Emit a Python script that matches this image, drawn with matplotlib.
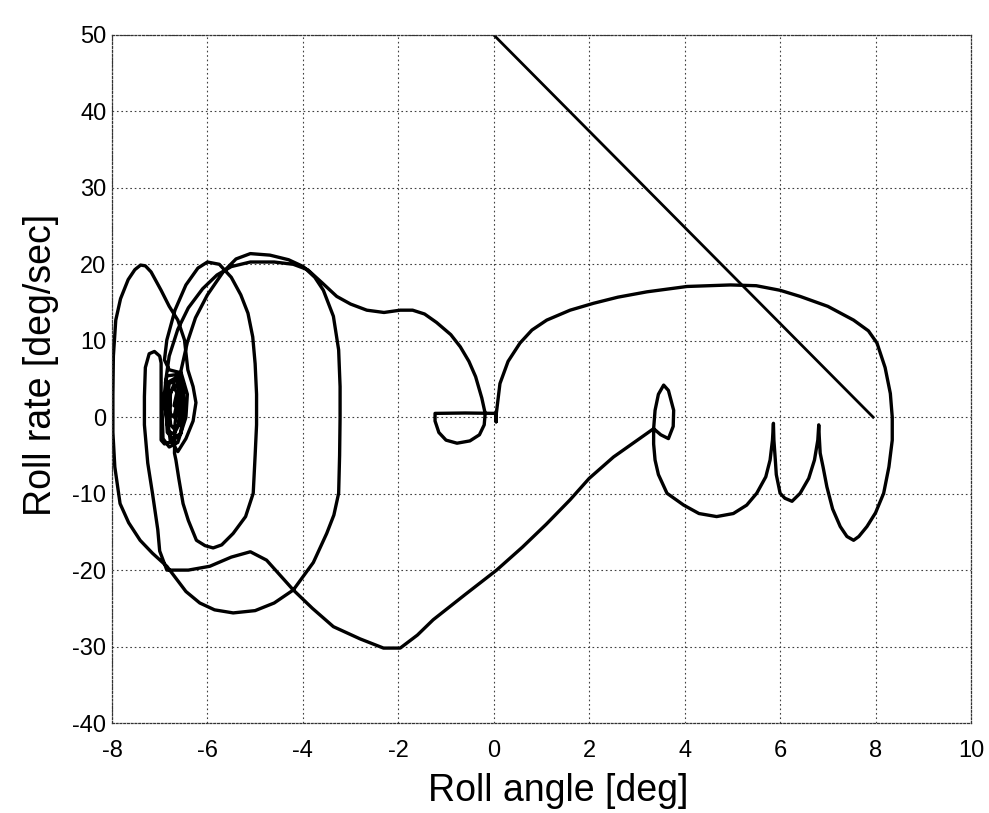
import matplotlib
matplotlib.use("Agg")
import matplotlib.pyplot as plt

# phase-plane trajectory (roll angle [deg], roll rate [deg/s])
roll_angle = [
    # inner spiral, left
    -6.70, -6.64, -6.70, -6.77, -6.80, -6.77, -6.70, -6.60, -6.55, -6.56, -6.66, -6.80,
    -6.87, -6.84, -6.72, -6.56, -6.49, -6.50, -6.62, -6.85, -6.95, -6.93, -6.80, -6.62,
    -6.45, -6.42, -6.55, -6.80,
    # medium loop
    -6.90, -6.85, -6.68, -6.45, -6.20, -6.00, -5.75, -5.50, -5.30, -5.15, -5.05, -5.00,
    -4.97, -4.97, -5.00, -5.04, -5.20, -5.46, -5.70, -5.88, -6.05, -6.23, -6.40, -6.51,
    -6.60, -6.66, -6.69,
    # rise to top arc, big loop
    -6.68, -6.62, -6.55, -6.42, -6.25, -6.00, -5.67, -5.40, -5.10, -4.69, -4.30, -3.99,
    -3.75, -3.57, -3.36, -3.25, -3.22, -3.22, -3.23, -3.25, -3.35, -3.50, -3.78, -4.20,
    -4.60, -5.00, -5.46, -5.85, -6.16, -6.45, -6.85, -7.15, -7.41, -7.65, -7.83, -7.94,
    -7.98, -7.98, -7.97, -7.92, -7.82, -7.66, -7.52, -7.40, -7.30, -7.18, -6.97, -6.80,
    -6.62, -6.48, -6.41, -6.30, -6.24, -6.30, -6.45, -6.62,
    # second rise, then out to the right
    -6.78, -6.86, -6.88, -6.80, -6.62, -6.40, -6.10, -5.80, -5.50, -5.10, -4.60, -4.20,
    -3.90, -3.60, -3.29, -3.00, -2.66, -2.30, -1.96, -1.70, -1.45, -1.20, -0.90, -0.70,
    -0.52, -0.38, -0.25, -0.18, -0.20, -0.30, -0.50, -0.77, -1.00, -1.15, -1.23, -1.23,
    -0.60, 0.05, 0.05, 0.05,
    # right half
    0.13, 0.30, 0.55, 0.80, 1.11, 1.60, 2.09, 2.60, 3.21, 4.05, 4.96, 5.50,
    6.00, 6.42, 7.00, 7.54, 7.85, 8.03, 8.20, 8.31, 8.35, 8.35, 8.28, 8.17, 8.00,
    7.82, 7.65, 7.54, 7.40, 7.26, 7.10, 6.98, 6.90, 6.84, 6.82, 6.81, 6.79,
    6.72, 6.60, 6.42, 6.25, 6.10, 6.00, 5.92, 5.90, 5.87, 5.86, 5.84, 5.79,
    5.70, 5.51, 5.30, 5.02, 4.67, 4.30, 3.98, 3.63, 3.45, 3.38, 3.35, 3.35,
    3.38, 3.45, 3.56, 3.66, 3.77, 3.76, 3.66, 3.50, 3.35,
    # diagonal down to the -30 dip and back to the left
    2.51, 2.00, 1.60, 1.10, 0.60, 0.06, -0.60, -1.27, -1.60, -1.96, -2.31, -2.80,
    -3.36, -3.80, -4.20, -4.50, -4.76, -5.10, -5.50, -5.95, -6.40, -6.85,
    # hook and final spiral
    -7.00, -7.04, -7.15, -7.25, -7.32, -7.32, -7.30, -7.22, -7.11, -7.00, -6.97, -6.97,
    -6.97, -6.97, -6.90, -6.75, -6.55, -6.50, -6.52, -6.65, -6.82, -6.88, -6.82, -6.70,
    -6.60, -6.58, -6.60, -6.70, -6.78, -6.78, -6.70, -6.65,
]
roll_rate = [
    1.5, 3.2, 3.9, 3.3, 1.0, -1.0, -1.5, -1.0, 1.0, 3.8, 4.8, 4.4,
    1.0, -2.0, -2.8, -2.2, 1.0, 4.3, 5.6, 5.4, 1.0, -2.8, -3.9, -3.3,
    0.0, 3.0, 5.8, 6.2,
    7.5, 10.1, 14.0, 17.3, 19.5, 20.3, 20.0, 18.3, 16.0, 13.6, 10.5, 7.0,
    3.0, -1.0, -5.0, -9.95, -13.0, -15.2, -16.7, -17.1, -16.8, -16.1, -13.5, -11.3,
    -8.0, -5.6, -4.7,
    -1.0, 2.5, 6.2, 9.8, 13.0, 16.0, 19.0, 20.7, 21.4, 21.2, 20.6, 19.7,
    18.3, 16.6, 13.2, 8.8, 4.0, 0.0, -5.0, -9.95, -12.8, -15.2, -19.0, -22.6,
    -24.3, -25.3, -25.6, -25.2, -24.3, -22.8, -19.5, -17.8, -16.1, -13.8, -11.3, -6.5,
    -2.0, 3.0, 8.0, 12.7, 15.5, 18.0, 19.3, 19.9, 19.8, 19.0, 16.6, 14.5,
    12.7, 10.1, 6.2, 4.0, 1.9, -0.5, -2.8, -4.5,
    -3.0, 1.0, 4.5, 8.0, 11.5, 14.3, 16.8, 18.6, 19.7, 20.3, 20.3, 20.0,
    19.3, 17.6, 15.8, 14.8, 14.0, 13.7, 14.0, 14.0, 13.5, 12.4, 10.8, 9.2,
    7.3, 5.3, 2.5, 0.5, -1.0, -2.3, -3.1, -3.4, -3.0, -2.0, -0.5, 0.5,
    0.55, 0.5, -0.6, 0.3,
    4.4, 7.3, 9.7, 11.4, 12.7, 14.0, 14.9, 15.7, 16.4, 17.1, 17.3, 17.2,
    16.6, 15.8, 14.5, 12.7, 11.3, 9.7, 6.5, 3.1, 0.0, -3.0, -6.5, -9.95, -12.5,
    -14.3, -15.6, -16.1, -15.6, -14.3, -12.0, -9.1, -6.5, -4.7, -2.5, -1.0, -3.0,
    -5.6, -8.0, -9.95, -11.0, -10.6, -9.95, -7.5, -5.6, -3.0, -0.8, -3.0, -5.6,
    -7.8, -9.95, -11.5, -12.6, -13.0, -12.6, -11.5, -9.95, -7.5, -5.6, -3.5, -1.5,
    0.9, 3.0, 4.2, 3.5, 0.9, -1.2, -2.8, -2.3, -1.5,
    -5.2, -8.0, -10.8, -14.0, -17.0, -20.0, -23.2, -26.5, -28.5, -30.2, -30.2, -29.0,
    -27.4, -25.0, -22.6, -20.5, -18.7, -17.6, -18.3, -19.5, -20.0, -20.0,
    -17.5, -14.7, -10.0, -6.0, -1.0, 2.7, 6.5, 8.3, 8.6, 8.0, 7.1, 4.0,
    0.0, -3.0, -3.5, -3.2, -2.0, 1.0, 4.5, 5.2, 4.6, 1.0, -1.8, -2.2,
    -1.0, 1.5, 3.8, 4.3, 3.0, 0.5, 0.0, 1.5,
]

# straight switching line
line_angle = [0.0, 7.95]
line_rate = [50.0, 0.0]

x_ticks = [-8, -6, -4, -2, 0, 2, 4, 6, 8, 10]
y_ticks = [-40, -30, -20, -10, 0, 10, 20, 30, 40, 50]

plt.rcParams['font.family'] = ['Liberation Sans', 'DejaVu Sans']
plt.rcParams['axes.unicode_minus'] = False

fig = plt.figure(figsize=(9.89, 8.13), dpi=100)
ax = fig.add_axes([0.1132, 0.1107, 0.8686, 0.8463])

ax.plot(roll_angle, roll_rate, color='black', lw=2.4,
        solid_joinstyle='round', solid_capstyle='round')
ax.plot(line_angle, line_rate, color='black', lw=2.0)

ax.set_xlim(-8, 10)
ax.set_ylim(-40, 50)
ax.set_xticks(x_ticks)
ax.set_yticks(y_ticks)
ax.grid(True, color='0.25', linestyle=(0, (1.5, 2.5)), lw=0.8)
for s in ax.spines.values():
    s.set_linestyle((0, (1.5, 1.5)))
    s.set_linewidth(0.9)
    s.set_color('0.2')

ax.tick_params(axis='both', length=0, labelsize=17)
ax.tick_params(axis='x', pad=12)
ax.tick_params(axis='y', pad=4)

ax.set_xlabel('Roll angle [deg]', fontsize=27)
ax.set_ylabel('Roll rate [deg/sec]', fontsize=27)
ax.xaxis.set_label_coords(0.52, -0.072)
ax.yaxis.set_label_coords(-0.062, 0.52)

fig.savefig('out.png', dpi=100)
